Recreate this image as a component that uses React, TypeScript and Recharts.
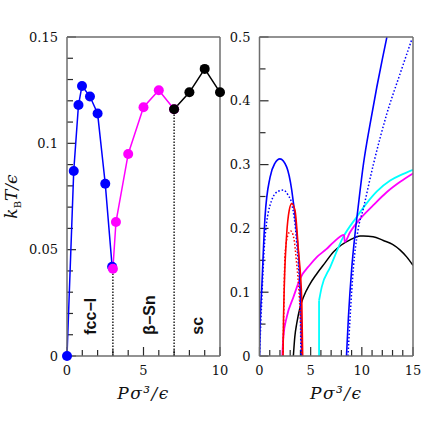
import React from "react";
import {
  ComposedChart,
  Line,
  Scatter,
  XAxis,
  YAxis,
  Label,
  ReferenceLine,
} from "recharts";

// ---- left panel: melting line, kBT/eps vs P sigma^3/eps ----
const fccP = [0, 0.44, 0.75, 0.98, 1.5, 2.0, 2.5, 2.95];
const fccT = [0, 0.087, 0.118, 0.127, 0.122, 0.114, 0.081, 0.042];
const snP = [3.0, 3.2, 4.0, 5.0, 6.0, 7.0];
const snT = [0.041, 0.063, 0.095, 0.117, 0.125, 0.116];
const scP = [7, 8, 9, 10];
const scT = [0.116, 0.124, 0.135, 0.124];
const boundaryP = [3, 7];
const boundaryT = [0.041, 0.116];
const phaseNames = ["fcc−I", "β−Sn", "sc"];
const phaseP = [1.55, 5.4, 8.5];
const phaseT = [0.01, 0.01, 0.01];

const leftXTicks = [0, 1, 2, 3, 4, 5, 6, 7, 8, 9, 10];
const leftXLabels = [0, 5, 10];
const leftYTicks = [0, 0.01, 0.02, 0.03, 0.04, 0.05, 0.06, 0.07, 0.08, 0.09, 0.1, 0.11, 0.12, 0.13, 0.14, 0.15];
const leftYLabels = [0, 0.05, 0.1, 0.15];

// ---- right panel: stability curves ----
const blueDomeP = [0, 0.08, 0.21, 0.54, 1.03, 1.5, 2.0, 2.66, 3.15, 3.64, 3.96, 4.08, 4.13];
const blueDomeT = [0, 0.06, 0.103, 0.218, 0.28, 0.302, 0.309, 0.296, 0.26, 0.192, 0.114, 0.05, 0];
const blueDotDomeP = [0, 0.2, 0.54, 1.19, 1.8, 2.33, 2.8, 3.15, 3.64, 3.96, 4.05];
const blueDotDomeT = [0, 0.08, 0.186, 0.244, 0.258, 0.26, 0.252, 0.239, 0.176, 0.087, 0];
const redP = [2.3, 2.35, 2.43, 2.66, 2.9, 3.15, 3.47, 3.8, 4.13, 4.22];
const redT = [0, 0.06, 0.113, 0.192, 0.228, 0.239, 0.228, 0.166, 0.087, 0];
const redDotP = [2.3, 2.35, 2.5, 2.75, 3.05, 3.35, 3.6, 3.9, 4.15];
const redDotT = [0, 0.05, 0.16, 0.188, 0.196, 0.185, 0.15, 0.09, 0];
const magentaP = [2.23, 2.33, 2.66, 3.31, 3.96, 4.94, 5.6, 6.5, 7.22, 8.27, 8.32, 8.85, 9.83, 11.1, 12.45, 13.75, 15];
const magentaT = [0, 0.03, 0.061, 0.092, 0.121, 0.143, 0.155, 0.167, 0.178, 0.19, 0.179, 0.194, 0.215, 0.236, 0.257, 0.273, 0.286];
const cyanStepP = [5.82, 5.82];
const cyanStepT = [0, 0.087];
const cyanP = [5.82, 6.08, 6.9, 8.2, 9.5, 10.5, 11.47, 12.77, 14, 15];
const cyanT = [0.087, 0.108, 0.139, 0.187, 0.218, 0.24, 0.258, 0.275, 0.285, 0.292];
const blackP = [3.31, 3.45, 3.64, 3.96, 4.29, 4.94, 5.6, 6.4, 7.22, 8.0, 8.85, 9.83, 10.16, 11.1, 12.1, 13.0, 13.75, 14.4, 15];
const blackT = [0, 0.03, 0.051, 0.076, 0.092, 0.113, 0.129, 0.146, 0.163, 0.174, 0.182, 0.188, 0.188, 0.187, 0.181, 0.175, 0.166, 0.155, 0.142];
const blueRightP = [8.5, 8.69, 9.02, 9.34, 9.6, 10.16, 10.81, 11.47, 12.0, 12.45];
const blueRightT = [0, 0.061, 0.139, 0.192, 0.228, 0.301, 0.364, 0.422, 0.465, 0.5];
const blueDotRightP = [8.65, 8.85, 9.18, 9.6, 10.16, 11.14, 12.45, 13.75, 14.9];
const blueDotRightT = [0, 0.06, 0.139, 0.195, 0.232, 0.301, 0.38, 0.443, 0.497];

const rightXTicks = [0, 1, 2, 3, 4, 5, 6, 7, 8, 9, 10, 11, 12, 13, 14, 15];
const rightXLabels = [0, 5, 10, 15];
const rightYTicks = [0, 0.05, 0.1, 0.15, 0.2, 0.25, 0.3, 0.35, 0.4, 0.45, 0.5];
const rightYLabels = [0, 0.1, 0.2, 0.3, 0.4, 0.5];

const zip = (p: number[], t: number[]) => p.map((v, i) => ({ p: v, t: t[i] }));

const AXIS = "#6e6e6e";
const TICK_COLOR = "#2a2a2a";
const TICK_FONT = "'DejaVu Serif', serif";
const LABEL_FONT = "'DejaVu Serif', serif";

const has = (arr: number[], v: number) => arr.some((a) => Math.abs(a - v) < 1e-9);

// labels only; the inward tick marks are drawn as reference segments below
function makeXTick(labels: number[]) {
  return (props: any) => {
    const x = Number(props.x);
    const y = Number(props.y);
    const v = Number(props.payload.value);
    if (!has(labels, v)) return <g />;
    return (
      <text x={x} y={y + 19} textAnchor="middle" fontSize={13} fontFamily={TICK_FONT} fill="#111">
        {v}
      </text>
    );
  };
}

function makeYTick(labels: number[]) {
  return (props: any) => {
    const x = Number(props.x);
    const y = Number(props.y);
    const v = Number(props.payload.value);
    if (!has(labels, v)) return <g />;
    return (
      <text x={x - 9} y={y} dy="0.35em" textAnchor="end" fontSize={13} fontFamily={TICK_FONT} fill="#111">
        {String(v)}
      </text>
    );
  };
}

// tick marks in data units: length along the other axis (major / minor)
function tickMarks(xTicks: number[], xLabels: number[], yTicks: number[], yLabels: number[], xMax: number, yMax: number) {
  const yLen = yMax / 319; // one pixel of height in data units
  const xLen = xMax / 153; // one pixel of width in data units
  const out: React.ReactNode[] = [];
  xTicks.forEach((v) => {
    const len = (has(xLabels, v) ? 9 : 6) * yLen;
    out.push(
      <ReferenceLine key={`x${v}`} segment={[{ x: v, y: 0 }, { x: v, y: len }]} stroke={TICK_COLOR} strokeWidth={1.2} ifOverflow="visible" />
    );
  });
  yTicks.forEach((v) => {
    const len = (has(yLabels, v) ? 9 : 6) * xLen;
    out.push(
      <ReferenceLine key={`y${v}`} segment={[{ x: 0, y: v }, { x: len, y: v }]} stroke={TICK_COLOR} strokeWidth={1.2} ifOverflow="visible" />
    );
  });
  return out;
}

const xLabel = (props: any) => {
  const { x, y, width } = props.viewBox;
  return (
    <text x={x + width / 2} y={y + 43} textAnchor="middle" fontSize={17} fontStyle="italic" fontFamily={LABEL_FONT} fill="#111" letterSpacing={1.5}>
      Pσ³/ϵ
    </text>
  );
};

const yLabel = (props: any) => {
  const { x, y, height, width } = props.viewBox;
  const cx = x + width - 50;
  const cy = y + height / 2;
  return (
    <text x={cx} y={cy} transform={`rotate(-90 ${cx} ${cy})`} textAnchor="middle" fontSize={17} fontStyle="italic" fontFamily={LABEL_FONT} fill="#111">
      <tspan>k</tspan>
      <tspan dy={4} fontSize={10} fontStyle="normal">B</tspan>
      <tspan dy={-4}>T/ϵ</tspan>
    </text>
  );
};

const phaseShape = (props: any) => {
  const { cx, cy, payload } = props;
  return (
    <text x={cx} y={cy} transform={`rotate(-90 ${cx} ${cy})`} dominantBaseline="central" textAnchor="start" fontSize={16} fontWeight="bold" fontFamily="'Liberation Sans', Arial, sans-serif" fill="#111">
      {payload.name}
    </text>
  );
};

const frameLine = { stroke: AXIS, strokeWidth: 1.5 };

export default function App() {
  const phaseData = phaseNames.map((n, i) => ({ name: n, p: phaseP[i], t: phaseT[i] }));
  return (
    <div style={{ position: "absolute", left: 0, top: 0, width: 436, height: 436, background: "#fff" }}>
      <div style={{ position: "absolute", left: 0, top: 0 }}>
        <ComposedChart width={230} height={436} margin={{ top: 36, left: 66, right: 9, bottom: 79 }}>
          <XAxis dataKey="p" type="number" domain={[0, 10]} ticks={leftXTicks} interval={0}
            height={1} tickSize={0} tickMargin={0} tickLine={false} axisLine={frameLine}
            tick={makeXTick(leftXLabels)}>
            <Label content={xLabel} />
          </XAxis>
          <XAxis xAxisId="top" orientation="top" dataKey="p" type="number" domain={[0, 10]} height={1} tick={false} tickLine={false}
            axisLine={frameLine} />
          <YAxis type="number" domain={[0, 0.15]} ticks={leftYTicks} interval={0}
            width={1} tickSize={0} tickMargin={0} tickLine={false} axisLine={frameLine}
            tick={makeYTick(leftYLabels)}>
            <Label content={yLabel} />
          </YAxis>
          <YAxis yAxisId="right" orientation="right" type="number" domain={[0, 0.15]} width={1} tick={false} tickLine={false}
            axisLine={frameLine} />
          {tickMarks(leftXTicks, leftXLabels, leftYTicks, leftYLabels, 10, 0.15)}
          {boundaryP.map((bp, i) => (
            <Line key={i} data={[{ p: bp, t: 0 }, { p: bp, t: boundaryT[i] }]} dataKey="t" type="linear" stroke="#000"
              strokeWidth={1.3} strokeDasharray="1.5 1.5" dot={false} isAnimationActive={false} />
          ))}
          <Line data={zip(fccP, fccT)} dataKey="t" type="linear" stroke="#0000ff" strokeWidth={1.5}
            dot={{ r: 5, fill: "#0000ff", stroke: "#0000ff", strokeWidth: 0, clipDot: false }} isAnimationActive={false} />
          <Line data={zip(snP, snT)} dataKey="t" type="linear" stroke="#ff00ff" strokeWidth={1.5}
            dot={{ r: 5, fill: "#ff00ff", stroke: "#ff00ff", strokeWidth: 0, clipDot: false }} isAnimationActive={false} />
          <Line data={zip(scP, scT)} dataKey="t" type="linear" stroke="#000" strokeWidth={1.5}
            dot={{ r: 5, fill: "#000", stroke: "#000", strokeWidth: 0, clipDot: false }} isAnimationActive={false} />
          <Scatter data={phaseData} dataKey="t" shape={phaseShape} isAnimationActive={false} />
        </ComposedChart>
      </div>
      <div style={{ position: "absolute", left: 230, top: 0 }}>
        <ComposedChart width={206} height={436} margin={{ top: 36, left: 28.5, right: 22, bottom: 79 }}>
          <XAxis dataKey="p" type="number" domain={[0, 15]} ticks={rightXTicks} interval={0} allowDataOverflow
            height={1} tickSize={0} tickMargin={0} tickLine={false} axisLine={frameLine}
            tick={makeXTick(rightXLabels)}>
            <Label content={xLabel} />
          </XAxis>
          <XAxis xAxisId="top" orientation="top" dataKey="p" type="number" domain={[0, 15]} height={1} tick={false} tickLine={false}
            axisLine={frameLine} />
          <YAxis type="number" domain={[0, 0.5]} ticks={rightYTicks} interval={0} allowDataOverflow
            width={1} tickSize={0} tickMargin={0} tickLine={false} axisLine={frameLine}
            tick={makeYTick(rightYLabels)} />
          <YAxis yAxisId="right" orientation="right" type="number" domain={[0, 0.5]} width={1} tick={false} tickLine={false}
            axisLine={frameLine} />
          {tickMarks(rightXTicks, rightXLabels, rightYTicks, rightYLabels, 15, 0.5)}
          <Line data={zip(blackP, blackT)} dataKey="t" type="monotone" stroke="#000" strokeWidth={1.5} dot={false} isAnimationActive={false} />
          <Line data={zip(cyanStepP, cyanStepT)} dataKey="t" type="linear" stroke="#00ffff" strokeWidth={1.8} dot={false} isAnimationActive={false} />
          <Line data={zip(cyanP, cyanT)} dataKey="t" type="monotone" stroke="#00ffff" strokeWidth={1.8} dot={false} isAnimationActive={false} />
          <Line data={zip(magentaP, magentaT)} dataKey="t" type="monotone" stroke="#ff00ff" strokeWidth={1.8} dot={false} isAnimationActive={false} />
          <Line data={zip(blueDotDomeP, blueDotDomeT)} dataKey="t" type="monotone" stroke="#0000ff" strokeWidth={1.5} strokeDasharray="1.5 2" dot={false} isAnimationActive={false} />
          <Line data={zip(blueDomeP, blueDomeT)} dataKey="t" type="monotone" stroke="#0000ff" strokeWidth={1.6} dot={false} isAnimationActive={false} />
          <Line data={zip(redDotP, redDotT)} dataKey="t" type="monotone" stroke="#ff0000" strokeWidth={1.5} strokeDasharray="1.5 2" dot={false} isAnimationActive={false} />
          <Line data={zip(redP, redT)} dataKey="t" type="monotone" stroke="#ff0000" strokeWidth={1.6} dot={false} isAnimationActive={false} />
          <Line data={zip(blueDotRightP, blueDotRightT)} dataKey="t" type="monotone" stroke="#0000ff" strokeWidth={1.5} strokeDasharray="1.5 2" dot={false} isAnimationActive={false} />
          <Line data={zip(blueRightP, blueRightT)} dataKey="t" type="monotone" stroke="#0000ff" strokeWidth={1.6} dot={false} isAnimationActive={false} />
        </ComposedChart>
      </div>
    </div>
  );
}
